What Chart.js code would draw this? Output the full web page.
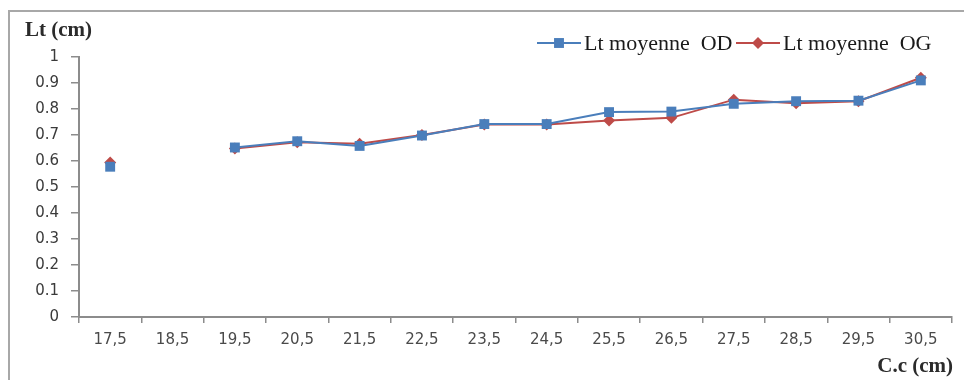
<!DOCTYPE html>
<html>
<head>
<meta charset="utf-8">
<script src="https://cdn.jsdelivr.net/npm/chart.js@4.4.1/dist/chart.umd.min.js"></script>
<style>
  body { margin: 0; background: #fff; }
  #wrap { width: 964px; height: 380px; }
</style>
</head>
<body>
<div id="wrap"><canvas id="ltChart" width="964" height="380"></canvas></div>
<script>
// ================= DATA =================
const classes = ["17,5", "18,5", "19,5", "20,5", "21,5", "22,5", "23,5",
                 "24,5", "25,5", "26,5", "27,5", "28,5", "29,5", "30,5"];
const ltOD = [0.578, null, 0.652, 0.676, 0.658, 0.698, 0.742,
              0.742, 0.788, 0.790, 0.820, 0.830, 0.832, 0.910];
const ltOG = [0.594, null, 0.648, 0.672, 0.666, 0.700, 0.740,
              0.740, 0.756, 0.766, 0.836, 0.822, 0.830, 0.920];
const yTicks = [0, 0.1, 0.2, 0.3, 0.4, 0.5, 0.6, 0.7, 0.8, 0.9, 1];

const BLUE = "#4a7ebb";
const RED = "#be4b48";
const AXIS = "#8c8c8c";

// ================= FRAME, TITLES, LEGEND =================
const decor = {
    id: "decor",
    beforeDraw(chart) {
        const ctx = chart.ctx;
        ctx.save();
        ctx.strokeStyle = "#a8a8a8";
        ctx.lineWidth = 2;
        ctx.beginPath();
        ctx.moveTo(9, 380);
        ctx.lineTo(9, 11);
        ctx.lineTo(964, 11);
        ctx.stroke();
        ctx.restore();
    },
    afterDraw(chart) {
        const ctx = chart.ctx;
        ctx.save();
        // axis titles
        ctx.fillStyle = "#2b2b2b";
        ctx.font = "bold 21px 'Liberation Serif'";
        ctx.textBaseline = "middle";
        ctx.textAlign = "left";
        ctx.fillText("Lt (cm)", 25, 31);
        ctx.textAlign = "right";
        ctx.fillText("C.c (cm)", 953, 367);

        // legend: line with marker, then label
        const items = [
            { text: "Lt moyenne  OD", color: BLUE, style: "rect", r: 7, x0: 537 },
            { text: "Lt moyenne  OG", color: RED, style: "rectRot", r: 6, x0: 736 }
        ];
        const ly = 43;
        ctx.font = "22px 'Liberation Serif'";
        ctx.textAlign = "left";
        items.forEach(it => {
            ctx.strokeStyle = it.color;
            ctx.lineWidth = 2;
            ctx.beginPath();
            ctx.moveTo(it.x0, ly);
            ctx.lineTo(it.x0 + 44, ly);
            ctx.stroke();
            ctx.fillStyle = it.color;
            Chart.helpers.drawPoint(ctx, { pointStyle: it.style, radius: it.r, borderWidth: 0 },
                it.x0 + 22, ly);
            ctx.fillStyle = "#1a1a1a";
            ctx.fillText(it.text, it.x0 + 47, ly + 1);
        });
        ctx.restore();
    }
};

// ================= CHART =================
new Chart(document.getElementById("ltChart"), {
    type: "line",
    data: {
        labels: classes,
        datasets: [
            {
                label: "Lt moyenne  OD",
                data: ltOD,
                borderColor: BLUE,
                backgroundColor: BLUE,
                borderWidth: 2,
                pointStyle: "rect",
                pointRadius: 7,
                pointBorderWidth: 0,
                spanGaps: false,
                tension: 0
            },
            {
                label: "Lt moyenne  OG",
                data: ltOG,
                borderColor: RED,
                backgroundColor: RED,
                borderWidth: 2,
                pointStyle: "rectRot",
                pointRadius: 6,
                pointBorderWidth: 0,
                spanGaps: false,
                tension: 0
            }
        ]
    },
    options: {
        responsive: false,
        animation: false,
        layout: { padding: { left: 0, right: 12, top: 57, bottom: 0 } },
        plugins: {
            legend: { display: false },
            tooltip: { enabled: false }
        },
        scales: {
            x: {
                offset: true,
                afterFit: s => { s.height = 63; },
                grid: {
                    offset: true,
                    drawOnChartArea: false,
                    tickLength: 6,
                    color: AXIS,
                    lineWidth: 1.5
                },
                border: { color: AXIS, width: 2 },
                ticks: {
                    color: "#4a4a4a",
                    font: { family: "'DejaVu Sans'", size: 15 },
                    padding: 8,
                    maxRotation: 0,
                    autoSkip: false
                }
            },
            y: {
                min: 0,
                max: 1,
                afterFit: s => { s.width = 79; },
                afterBuildTicks: s => { s.ticks = yTicks.map(v => ({ value: v })); },
                grid: {
                    drawOnChartArea: false,
                    tickLength: 8,
                    color: AXIS,
                    lineWidth: 1.5
                },
                border: { color: AXIS, width: 2 },
                ticks: {
                    color: "#3a3a3a",
                    font: { family: "'DejaVu Sans'", size: 15 },
                    padding: 12,
                    callback: v => (v === 0 || v === 1) ? String(v) : v.toFixed(1)
                }
            }
        }
    },
    plugins: [decor]
});
</script>
</body>
</html>
